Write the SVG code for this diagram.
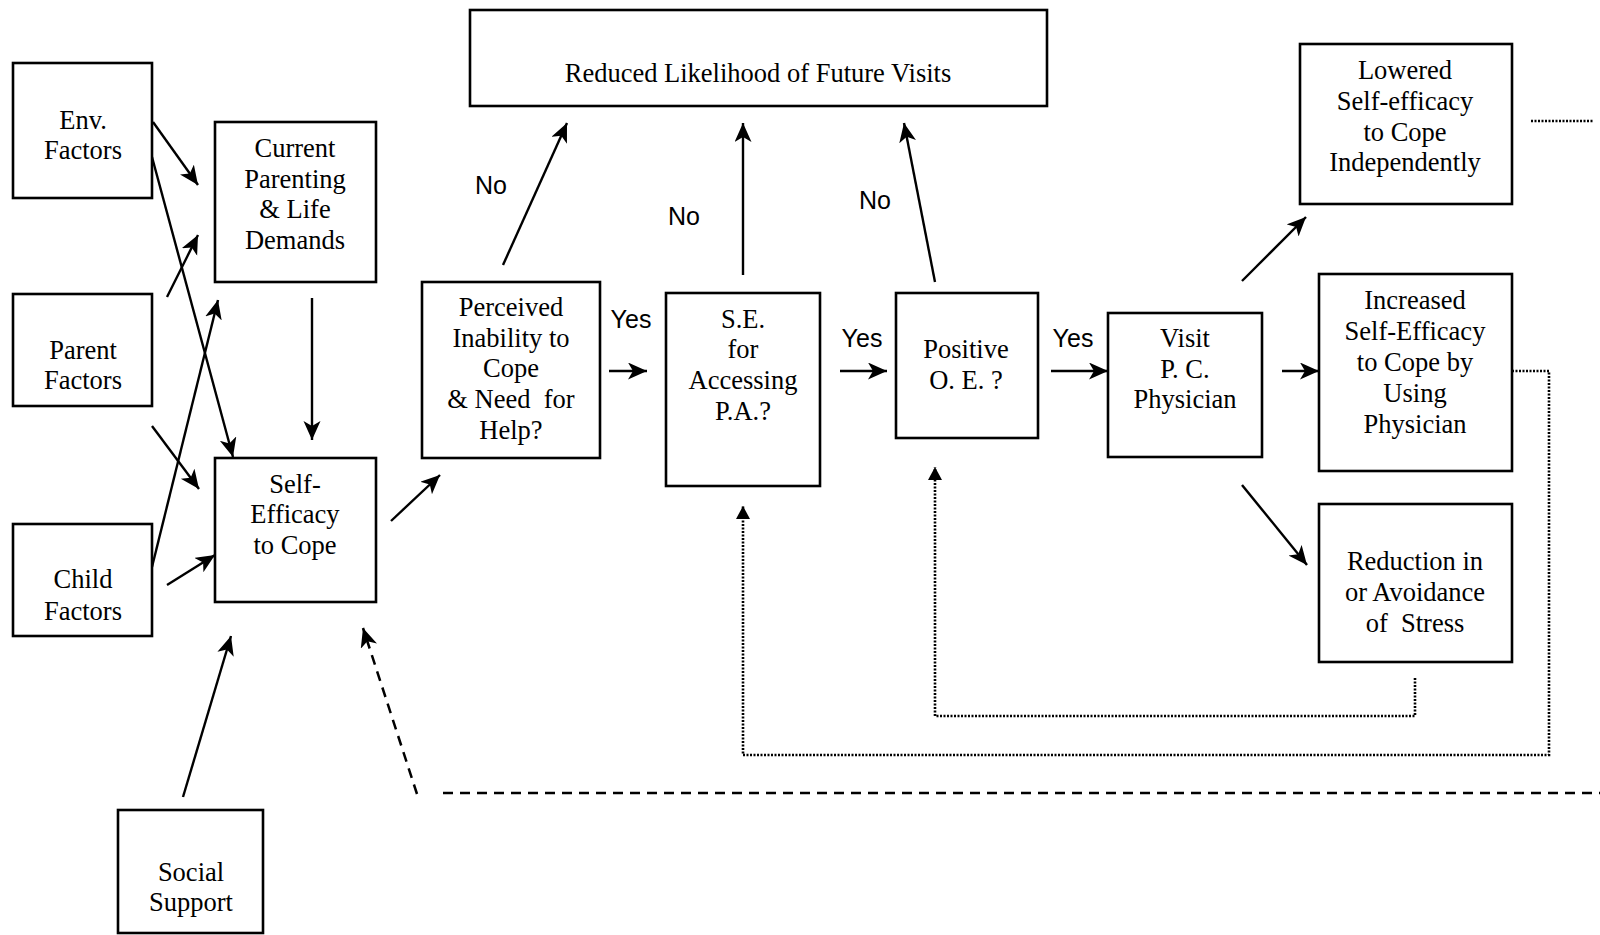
<svg xmlns="http://www.w3.org/2000/svg" width="1600" height="935" viewBox="0 0 1600 935">
<style>
.box{fill:#fff;stroke:#000;stroke-width:2.6}
.t{font-family:"Liberation Serif","Times New Roman",serif;font-size:26.5px;text-anchor:middle;fill:#000}
.lbl{font-family:"Liberation Sans",Arial,sans-serif;font-size:25px;text-anchor:middle;fill:#000}
.c{fill:none;stroke:#000;stroke-width:2.4}
.a{marker-end:url(#ah)}
.dot{fill:none;stroke:#000;stroke-width:2.6;stroke-dasharray:2 1.5}
.dash{fill:none;stroke:#000;stroke-width:2.5;stroke-dasharray:10 7}
</style>
<defs>
<marker id="ah" markerUnits="userSpaceOnUse" markerWidth="22" markerHeight="20" refX="19" refY="8.5" orient="auto">
<path d="M0,0 L19,8.5 L0,17 L5,8.5 z" fill="#000"/>
</marker>
<marker id="ahs" markerUnits="userSpaceOnUse" markerWidth="16" markerHeight="16" refX="13" refY="7" orient="auto">
<path d="M0,0 L13,7 L0,14 z" fill="#000"/>
</marker>
</defs>
<rect width="1600" height="935" fill="#fff"/>

<g id="connectors">
<line class="c a" x1="153" y1="122" x2="198" y2="185"/>
<line class="c a" x1="167" y1="297" x2="198" y2="235"/>
<line class="c a" x1="152" y1="567" x2="218" y2="300"/>
<line class="c a" x1="152" y1="157" x2="233" y2="457"/>
<line class="c a" x1="312" y1="298" x2="312" y2="440"/>
<line class="c a" x1="152" y1="426" x2="199" y2="489"/>
<line class="c a" x1="167" y1="585" x2="215" y2="555"/>
<line class="c a" x1="183" y1="797" x2="231" y2="636"/>
<line class="c a" x1="391" y1="521" x2="440" y2="475"/>
<line class="c a" x1="503" y1="265" x2="567" y2="123"/>
<line class="c a" x1="743" y1="275" x2="743" y2="123"/>
<line class="c a" x1="935" y1="282" x2="904" y2="123"/>
<line class="c a" x1="609" y1="371" x2="647" y2="371"/>
<line class="c a" x1="840" y1="371" x2="887" y2="371"/>
<line class="c a" x1="1051" y1="371" x2="1108" y2="371"/>
<line class="c a" x1="1242" y1="281" x2="1306" y2="217"/>
<line class="c a" x1="1282" y1="371" x2="1319" y2="371"/>
<line class="c a" x1="1242" y1="485" x2="1307" y2="565"/>
<polyline class="dash" points="443,793 1600,793"/>
<line class="dash" x1="417" y1="794" x2="363" y2="628" marker-end="url(#ah)"/>
<line class="dot" x1="1531" y1="121" x2="1594" y2="121"/>
<polyline class="dot" points="1512,371 1549,371 1549,755 743,755 743,506" marker-end="url(#ahs)"/>
<polyline class="dot" points="1415,678 1415,716 935,716 935,467" marker-end="url(#ahs)"/>
</g>

<g id="env">
<rect class="box" x="13" y="63" width="139" height="135"/>
<text class="t" x="83" y="129">Env.</text>
<text class="t" x="83" y="159">Factors</text>
</g>
<g id="parent">
<rect class="box" x="13" y="294" width="139" height="112"/>
<text class="t" x="83" y="359">Parent</text>
<text class="t" x="83" y="389">Factors</text>
</g>
<g id="child">
<rect class="box" x="13" y="524" width="139" height="112"/>
<text class="t" x="83" y="588">Child</text>
<text class="t" x="83" y="620">Factors</text>
</g>
<g id="current">
<rect class="box" x="215" y="122" width="161" height="160"/>
<text class="t" x="295" y="157">Current</text>
<text class="t" x="295" y="188">Parenting</text>
<text class="t" x="295" y="218">&amp; Life</text>
<text class="t" x="295" y="249">Demands</text>
</g>
<g id="selfefficacy">
<rect class="box" x="215" y="458" width="161" height="144"/>
<text class="t" x="295" y="493">Self-</text>
<text class="t" x="295" y="523">Efficacy</text>
<text class="t" x="295" y="554">to Cope</text>
</g>
<g id="social">
<rect class="box" x="118" y="810" width="145" height="123"/>
<text class="t" x="191" y="881">Social</text>
<text class="t" x="191" y="911">Support</text>
</g>
<g id="reduced">
<rect class="box" x="470" y="10" width="577" height="96"/>
<text class="t" x="758" y="82">Reduced Likelihood of Future Visits</text>
</g>
<g id="perceived">
<rect class="box" x="422" y="282" width="178" height="176"/>
<text class="t" x="511" y="316">Perceived</text>
<text class="t" x="511" y="347">Inability to</text>
<text class="t" x="511" y="377">Cope</text>
<text class="t" x="511" y="408" xml:space="preserve">&amp; Need  for</text>
<text class="t" x="511" y="439">Help?</text>
</g>
<g id="se">
<rect class="box" x="666" y="293" width="154" height="193"/>
<text class="t" x="743" y="328">S.E.</text>
<text class="t" x="743" y="358">for</text>
<text class="t" x="743" y="389">Accessing</text>
<text class="t" x="743" y="420">P.A.?</text>
</g>
<g id="positive">
<rect class="box" x="896" y="293" width="142" height="145"/>
<text class="t" x="966" y="358">Positive</text>
<text class="t" x="966" y="389">O. E. ?</text>
</g>
<g id="visit">
<rect class="box" x="1108" y="313" width="154" height="144"/>
<text class="t" x="1185" y="347">Visit</text>
<text class="t" x="1185" y="378">P. C.</text>
<text class="t" x="1185" y="408">Physician</text>
</g>
<g id="lowered">
<rect class="box" x="1300" y="44" width="212" height="160"/>
<text class="t" x="1405" y="79">Lowered</text>
<text class="t" x="1405" y="110">Self-efficacy</text>
<text class="t" x="1405" y="141">to Cope</text>
<text class="t" x="1405" y="171">Independently</text>
</g>
<g id="increased">
<rect class="box" x="1319" y="274" width="193" height="197"/>
<text class="t" x="1415" y="309">Increased</text>
<text class="t" x="1415" y="340">Self-Efficacy</text>
<text class="t" x="1415" y="371">to Cope by</text>
<text class="t" x="1415" y="402">Using</text>
<text class="t" x="1415" y="433">Physician</text>
</g>
<g id="reduction">
<rect class="box" x="1319" y="504" width="193" height="158"/>
<text class="t" x="1415" y="570">Reduction in</text>
<text class="t" x="1415" y="601">or Avoidance</text>
<text class="t" x="1415" y="632" xml:space="preserve">of  Stress</text>
</g>

<g id="labels">
<text class="lbl" x="491" y="194">No</text>
<text class="lbl" x="684" y="225">No</text>
<text class="lbl" x="875" y="209">No</text>
<text class="lbl" x="631" y="328">Yes</text>
<text class="lbl" x="862" y="347">Yes</text>
<text class="lbl" x="1073" y="347">Yes</text>
</g>
</svg>
